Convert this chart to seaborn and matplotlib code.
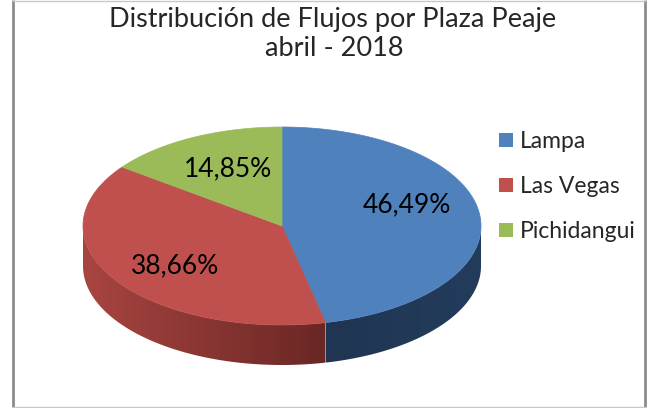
'''
3D-style pie of toll plaza flows (abril 2018), Excel look
'''
#%%
import numpy as np
import seaborn as sns
import matplotlib.pyplot as plt
from matplotlib.patches import Polygon, Patch
from matplotlib.colors import to_rgb

sns.set_style('white')
plt.rcParams['font.family'] = ['Lato', 'DejaVu Sans']

# %% data
plazas = ['Lampa', 'Las Vegas', 'Pichidangui']
share_pct = [46.49, 38.66, 14.85]
title_lines = ['Distribución de Flujos por Plaza Peaje', 'abril - 2018']

# %% style
top_colors = sns.color_palette(['#4F81BD', '#C0504D', '#9BBB59'])
side_left = ['#1F3552', '#A84541', '#7E9A44']   # colour at left end of the wall
side_right = ['#243C5C', '#6A2724', '#5E7633']  # colour at right end of the wall
CX, CY, RX, RY, DEPTH = 282, 226, 199, 99, 40
label_r = 0.62
label_nudge = [(2, -14), (-4, 6), (2, -2)]

def ell(t_deg, drop=0):
    t = np.radians(t_deg)
    return CX + RX*np.cos(t), CY - RY*np.sin(t) + drop

# %% wedge angles, start at 12 o'clock going clockwise
fracs = np.array(share_pct) / np.sum(share_pct)
starts = 90 - 360*np.concatenate([[0], np.cumsum(fracs)[:-1]])
ends = starts - 360*fracs

fig = plt.figure(figsize=(6.52, 4.08), dpi=100)
ax = fig.add_axes([0, 0, 1, 1])
ax.set_xlim(0, 652)
ax.set_ylim(408, 0)
ax.axis('off')

# side walls (only the front half, sin t < 0), gradient clipped to the wall
for i in range(len(plazas)):
    vis_lo = max(ends[i], -180)
    vis_hi = min(starts[i], 0)
    if vis_hi <= vis_lo:
        continue
    tt = np.linspace(vis_lo, vis_hi, 200)
    xs, ys = ell(tt)
    xb, yb = ell(tt[::-1], DEPTH)
    wall = Polygon(np.column_stack([np.r_[xs, xb], np.r_[ys, yb]]), closed=True,
                   facecolor='none', edgecolor='none')
    ax.add_patch(wall)
    x0, x1 = xs.min(), xs.max()
    y0, y1 = ys.min(), yb.max()
    c0, c1 = np.array(to_rgb(side_left[i])), np.array(to_rgb(side_right[i]))
    w = np.linspace(0, 1, 256)[None, :, None]
    grad = c0 + (c1 - c0)*w
    grad = np.repeat(grad, 2, axis=0)
    im = ax.imshow(grad, extent=(x0, x1, y1, y0), aspect='auto',
                   interpolation='bilinear', zorder=1)
    im.set_clip_path(wall)
ax.set_xlim(0, 652)
ax.set_ylim(408, 0)

# top faces
for i in range(len(plazas)):
    tt = np.linspace(starts[i], ends[i], 200)
    xs, ys = ell(tt)
    pts = np.column_stack([np.r_[CX, xs], np.r_[CY, ys]])
    ax.add_patch(Polygon(pts, closed=True, facecolor=top_colors[i],
                         edgecolor=top_colors[i], lw=0.5, zorder=2))

# percent labels
for i, v in enumerate(share_pct):
    mid = np.radians((starts[i] + ends[i]) / 2)
    lx = CX + label_r*RX*np.cos(mid) + label_nudge[i][0]
    ly = CY - label_r*RY*np.sin(mid) + label_nudge[i][1]
    ax.text(lx, ly, f'{v:.2f}%'.replace('.', ','), ha='center', va='center',
            fontsize=19, color='black', zorder=3)

# title
ax.text(333, 19, title_lines[0], ha='center', va='center', fontsize=19.5)
ax.text(334, 49, title_lines[1], ha='center', va='center', fontsize=19.5)

# legend
handles = [Patch(facecolor=c, edgecolor='none') for c in top_colors]
ax.legend(handles, plazas, loc='upper left', bbox_to_anchor=(499/652, 1 - 131/408),
          frameon=False, fontsize=16.5, handlelength=0.62, handleheight=0.62,
          handletextpad=0.3, labelspacing=1.05, borderpad=0, borderaxespad=0)

# chart border
ax.plot([13, 13], [0, 407], color='#8C8C8C', lw=2, solid_capstyle='butt')
ax.plot([645, 645], [0, 407], color='#8C8C8C', lw=2, solid_capstyle='butt')
ax.plot([13, 645], [0.5, 0.5], color='#C8C8C8', lw=1)
ax.plot([13, 645], [407, 407], color='#C8C8C8', lw=1)

plt.savefig('out.png', dpi=100)
